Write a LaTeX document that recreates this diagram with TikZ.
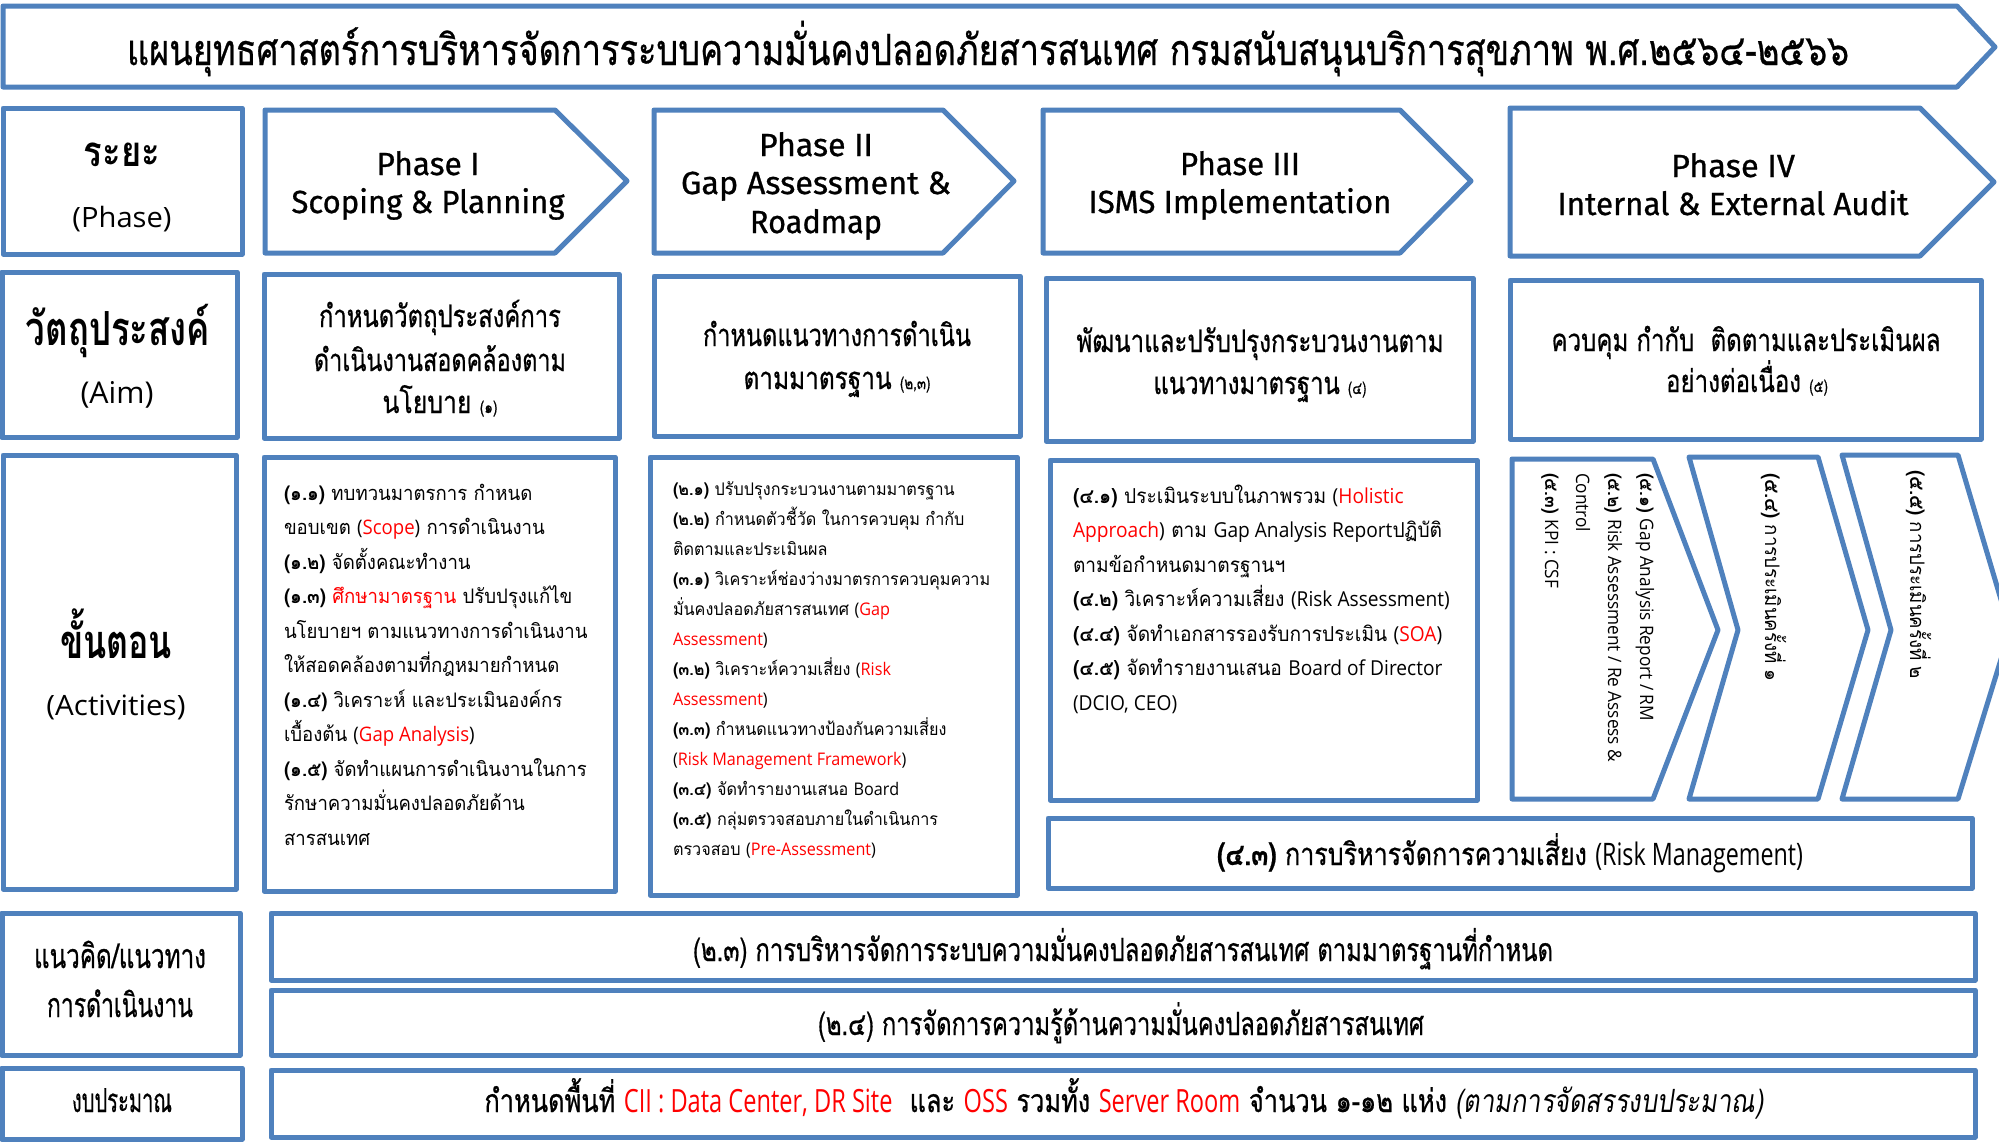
\documentclass[tikz,border=0pt]{standalone}
\usepackage{fontspec}
\usepackage{graphicx}
\setmainfont{Loma}[Script=Thai,FakeStretch=0.93]
\newfontfamily\thmed{Loma}[Script=Thai,FakeBold=0.7]
\newfontfamily\thit{Loma}[Script=Thai,FakeSlant=0.18]
\newfontfamily\latfont{Open Sans}[FakeStretch=0.93]
\newfontfamily\hdfont{Fira Sans}[FakeBold=0.8]
\definecolor{bl}{RGB}{79,129,189}
\definecolor{rd}{RGB}{255,0,0}
\newcommand\latn[1]{{\latfont #1}}
\newcommand\rd[1]{\textcolor{rd}{#1}}
\newcommand\nb[1]{{\bfseries #1}}
\newcommand\fs[2]{\fontsize{#1}{#2}\selectfont}
\newcommand\fitw[2]{\resizebox{#1}{\height}{#2}}
\begin{document}
\begin{tikzpicture}[x=1pt,y=-1pt,
  box/.style={draw=bl,line width=5pt,line join=round},
  lbl/.style={inner sep=0pt,outer sep=0pt,anchor=base},
  body/.style={inner sep=0pt,outer sep=0pt,anchor=base west,font=\fs{20}{24}},
  bodyb/.style={body,font=\fs{17.4}{22}},
  bodyc/.style={body,font=\fs{20.6}{24}},
  vert/.style={body,rotate=-90,font=\fs{18.5}{22}},
  vertth/.style={body,rotate=-90,font=\fs{20}{24}}]
\fill[white] (0,0) rectangle (1999,1144);
\useasboundingbox (0,0) rectangle (1999,1144);
% ---------- shapes ----------
\draw[box] (3,6) -- (1957,6) -- (1995,47) -- (1957,87) -- (3,87) -- cycle;
% row 1
\draw[box] (3,108) rectangle (242,254);
\draw[box] (265,110) -- (555,110) -- (627,181) -- (555,253) -- (265,253) -- cycle;
\draw[box] (654,110) -- (943,110) -- (1014,181) -- (943,253) -- (654,253) -- cycle;
\draw[box] (1043,110) -- (1400,110) -- (1471,181) -- (1400,253) -- (1043,253) -- cycle;
\draw[box] (1510,108) -- (1920,108) -- (1994,182) -- (1920,256) -- (1510,256) -- cycle;
% row 2
\draw[box] (2,272) rectangle (237,437);
\draw[box] (264,274) rectangle (619,438);
\draw[box] (654,276) rectangle (1020,436);
\draw[box] (1046,278) rectangle (1473,441);
\draw[box] (1510,280) rectangle (1981,439);
% row 3
\draw[box] (3,455) rectangle (236,889);
\draw[box] (264,457) rectangle (615,891);
\draw[box] (650,457) rectangle (1017,895);
\draw[box] (1050,460) rectangle (1477,800);
\draw[box] (1048,818) rectangle (1972,888);
\draw[box] (1512,459) -- (1653,459) -- (1718,630) -- (1653,799) -- (1512,799) -- cycle;
\draw[box] (1689,457) -- (1818,457) -- (1868,630) -- (1818,799) -- (1689,799) -- (1738,630) -- cycle;
\draw[box] (1842,455) -- (1958,455) -- (2010,630) -- (1958,799) -- (1842,799) -- (1891,630) -- cycle;
% row 4
\draw[box] (2,913) rectangle (240,1055);
\draw[box] (271,913) rectangle (1975,980);
\draw[box] (271,990) rectangle (1975,1055);
\draw[box] (2,1068) rectangle (242,1139);
\draw[box] (271,1070) rectangle (1975,1137);
% ---------- texts ----------
\node[lbl] (title) at (988,65) {\fitw{1722pt}{\fs{43}{50}\thmed แผนยุทธศาสตร์การบริหารจัดการระบบความมั่นคงปลอดภัยสารสนเทศ กรมสนับสนุนบริการสุขภาพ พ.ศ.๒๕๖๔-๒๕๖๖}};
% left labels
\node[lbl] (l1a) at (122,166) {\fitw{76pt}{\fs{42}{48}\bfseries ระยะ}};
\node[lbl] (l1b) at (122,227) {\fitw{99pt}{\fs{28}{34}\latfont (Phase)}};
\node[lbl] (l2a) at (118,345) {\fitw{184pt}{\fs{47}{54}\bfseries วัตถุประสงค์}};
\node[lbl] (l2b) at (117,403) {\fitw{73pt}{\fs{30}{36}\latfont (Aim)}};
\node[lbl] (l3a) at (116,658) {\fitw{112pt}{\fs{47}{54}\bfseries ขั้นตอน}};
\node[lbl] (l3b) at (116,715) {\fitw{139pt}{\fs{28}{34}\latfont (Activities)}};
\node[lbl] (l4a) at (120,968) {\fitw{172pt}{\fs{34}{40}\thmed แนวคิด/แนวทาง}};
\node[lbl] (l4b) at (120,1017) {\fitw{146pt}{\fs{34}{40}\thmed การดำเนินงาน}};
\node[lbl] (l5a) at (122,1112) {\fitw{100pt}{\fs{33}{40}\thmed งบประมาณ}};
% phase headings
\node[lbl] (p1a) at (428,175) {\fitw{103pt}{\fs{32}{38}\hdfont Phase I}};
\node[lbl] (p1b) at (428,213) {\fitw{273pt}{\fs{32}{38}\hdfont Scoping \& Planning}};
\node[lbl] (p2a) at (816,156) {\fitw{114pt}{\fs{32}{38}\hdfont Phase II}};
\node[lbl] (p2b) at (816,194) {\fitw{270pt}{\fs{32}{38}\hdfont Gap Assessment \&}};
\node[lbl] (p2c) at (816,233) {\fitw{132pt}{\fs{32}{38}\hdfont Roadmap}};
\node[lbl] (p3a) at (1240,175) {\fitw{120pt}{\fs{32}{38}\hdfont Phase III}};
\node[lbl] (p3b) at (1240,213) {\fitw{303pt}{\fs{32}{38}\hdfont ISMS Implementation}};
\node[lbl] (p4a) at (1733,177) {\fitw{124pt}{\fs{32}{38}\hdfont Phase IV}};
\node[lbl] (p4b) at (1733,215) {\fitw{351pt}{\fs{32}{38}\hdfont Internal \& External Audit}};
% aims
\node[lbl] (a1a) at (440,327) {\fitw{242pt}{\fs{31}{36}\thmed กำหนดวัตถุประสงค์การ}};
\node[lbl] (a1b) at (440,371) {\fitw{252pt}{\fs{31}{36}\thmed ดำเนินงานสอดคล้องตาม}};
\node[lbl] (a1c) at (440,413) {\fitw{115pt}{\fs{31}{36}\thmed นโยบาย {\fs{17}{17}(๑)}}};
\node[lbl] (a2a) at (837,346) {\fitw{268pt}{\fs{31}{36}\thmed กำหนดแนวทางการดำเนิน}};
\node[lbl] (a2b) at (837,389) {\fitw{187pt}{\fs{31}{36}\thmed ตามมาตรฐาน {\fs{17}{17}(๒,๓)}}};
\node[lbl] (a3a) at (1260,352) {\fitw{367pt}{\fs{31}{36}\thmed พัฒนาและปรับปรุงกระบวนงานตาม}};
\node[lbl] (a3b) at (1260,394) {\fitw{213pt}{\fs{31}{36}\thmed แนวทางมาตรฐาน {\fs{17}{17}(๔)}}};
\node[lbl] (a4a) at (1746,351) {\fitw{389pt}{\fs{31}{36}\thmed ควบคุม กำกับ\ \ ติดตามและประเมินผล}};
\node[lbl] (a4b) at (1747,392) {\fitw{162pt}{\fs{31}{36}\thmed อย่างต่อเนื่อง {\fs{17}{17}(๕)}}};
% activities phase I
\foreach \t [count=\i] in {
  {\nb{(๑.๑)} ทบทวนมาตรการ กำหนด},
  {ขอบเขต \latn{(\rd{Scope})} การดำเนินงาน},
  {\nb{(๑.๒)} จัดตั้งคณะทำงาน},
  {\nb{(๑.๓)} \rd{ศึกษามาตรฐาน} ปรับปรุงแก้ไข},
  {นโยบายฯ ตามแนวทางการดำเนินงาน},
  {ให้สอดคล้องตามที่กฎหมายกำหนด},
  {\nb{(๑.๔)} วิเคราะห์ และประเมินองค์กร},
  {เบื้องต้น \latn{(\rd{Gap Analysis})}},
  {\nb{(๑.๕)} จัดทำแผนการดำเนินงานในการ},
  {รักษาความมั่นคงปลอดภัยด้าน},
  {สารสนเทศ}}
  \node[body] (s1\i) at (284,{500+34.5*(\i-1)}) {\t};
% activities phase II
\foreach \t [count=\i] in {
  {\nb{(๒.๑)} ปรับปรุงกระบวนงานตามมาตรฐาน},
  {\nb{(๒.๒)} กำหนดตัวชี้วัด ในการควบคุม กำกับ},
  {ติดตามและประเมินผล},
  {\nb{(๓.๑)} วิเคราะห์ช่องว่างมาตรการควบคุมความ},
  {มั่นคงปลอดภัยสารสนเทศ \latn{(\rd{Gap}}},
  {\latn{\rd{Assessment})}},
  {\nb{(๓.๒)} วิเคราะห์ความเสี่ยง \latn{(\rd{Risk}}},
  {\latn{\rd{Assessment})}},
  {\nb{(๓.๓)} กำหนดแนวทางป้องกันความเสี่ยง},
  {\latn{(\rd{Risk Management Framework})}},
  {\nb{(๓.๔)} จัดทำรายงานเสนอ \latn{Board}},
  {\nb{(๓.๕)} กลุ่มตรวจสอบภายในดำเนินการ},
  {ตรวจสอบ \latn{(\rd{Pre-Assessment})}}}
  \node[bodyb] (s2\i) at (673,{495+30*(\i-1)}) {\t};
% activities phase III
\foreach \t [count=\i] in {
  {\nb{(๔.๑)} ประเมินระบบในภาพรวม \latn{(\rd{Holistic}}},
  {\latn{\rd{Approach})} ตาม \latn{Gap Analysis Report}ปฏิบัติ},
  {ตามข้อกำหนดมาตรฐานฯ},
  {\nb{(๔.๒)} วิเคราะห์ความเสี่ยง \latn{(Risk Assessment)}},
  {\nb{(๔.๔)} จัดทำเอกสารรองรับการประเมิน \latn{(\rd{SOA})}},
  {\nb{(๔.๕)} จัดทำรายงานเสนอ \latn{Board of Director}},
  {\latn{(DCIO, CEO)}}}
  \node[bodyc] (s3\i) at (1073,{503+34.5*(\i-1)}) {\t};
% phase IV chevrons (vertical text)
\node[vert] (c1a) at (1640,473) {\nb{(๕.๑)} \latn{Gap Analysis Report / RM}};
\node[vert] (c1b) at (1608,473) {\nb{(๕.๒)} \latn{Risk Assessment / Re Assess \&}};
\node[vert] (c1c) at (1576,473) {\latn{Control}};
\node[vert] (c1d) at (1545,473) {\nb{(๕.๓)} \latn{KPI : CSF}};
\node[vertth] (c2a) at (1765,473) {\nb{(๕.๔)} การประเมินครั้งที่ ๑};
\node[vertth] (c3a) at (1910,470) {\nb{(๕.๕)} การประเมินครั้งที่ ๒};
% risk management
\node[lbl] (rm) at (1510,865) {\fitw{586pt}{\fs{31}{36}\thmed\nb{(๔.๓)} การบริหารจัดการความเสี่ยง \latn{(Risk Management)}}};
% row 4 / budget
\node[lbl] (g3) at (1123,961) {\fitw{860pt}{\fs{32}{38}\thmed (๒.๓) การบริหารจัดการระบบความมั่นคงปลอดภัยสารสนเทศ ตามมาตรฐานที่กำหนด}};
\node[lbl] (g4) at (1121,1035) {\fitw{606pt}{\fs{32}{38}\thmed (๒.๔) การจัดการความรู้ด้านความมั่นคงปลอดภัยสารสนเทศ}};
\node[lbl] (bud) at (1124,1112) {\fitw{1279pt}{\fs{32}{38}\thmed กำหนดพื้นที่ \latn{\rd{CII : Data Center, DR Site}}\ \ และ \latn{\rd{OSS}} รวมทั้ง \latn{\rd{Server Room}} จำนวน ๑-๑๒ แห่ง {\thit (ตามการจัดสรรงบประมาณ)}}};
\end{tikzpicture}
\end{document}
